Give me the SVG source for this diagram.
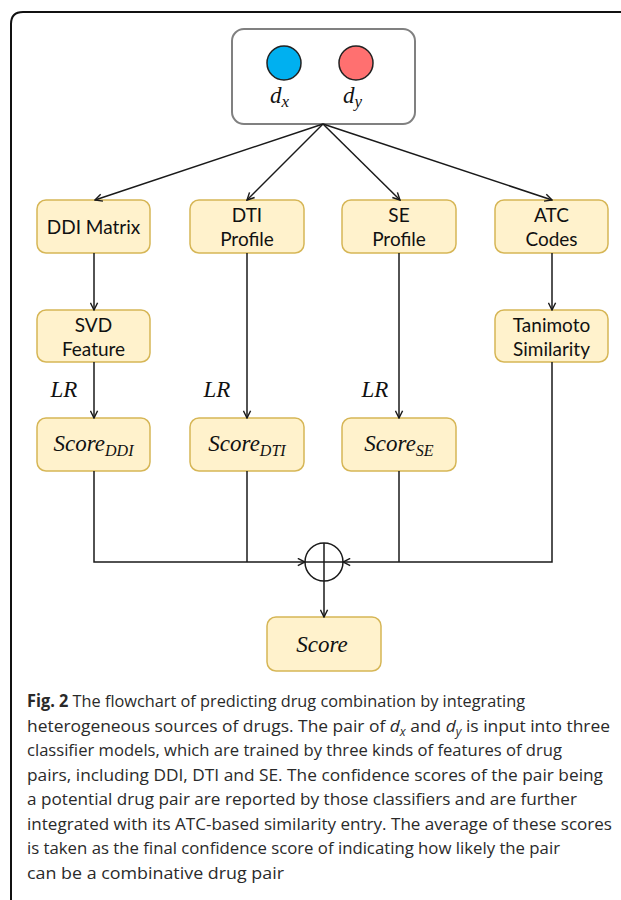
<svg xmlns="http://www.w3.org/2000/svg" width="621" height="900" viewBox="0 0 621 900">
<style>
.box{fill:#FFF2CC;stroke:#D6B656;stroke-width:1.5}
.lbl{font-family:Lato,"Open Sans",sans-serif;font-size:19px;fill:#111;text-anchor:middle}
.math{font-family:"Liberation Serif","DejaVu Serif",serif;font-style:italic;font-size:23px;fill:#111}
.conn{stroke:#1a1a1a;stroke-width:1.5;fill:none}
.cap{font-family:"Open Sans","Noto Sans",sans-serif;font-size:17px;fill:#2a2a2a}
</style>
<defs>
<marker id="arr" viewBox="0 0 10 10" refX="9" refY="5" markerWidth="9" markerHeight="9" markerUnits="userSpaceOnUse" orient="auto">
<path d="M1,1 L9,5 L1,9" fill="none" stroke="#1a1a1a" stroke-width="1.6"/>
</marker>
</defs>
<rect width="621" height="900" fill="#fff"/>
<path d="M11,900 V24 Q11,12 23,12 H621" fill="none" stroke="#111" stroke-width="2"/>

<g id="input">
<rect x="232" y="29" width="183" height="95" rx="12" fill="#fff" stroke="#808080" stroke-width="2"/>
<circle cx="284" cy="63" r="17" fill="#00B0F0" stroke="#222" stroke-width="1.5"/>
<circle cx="356" cy="63" r="17" fill="#FF7070" stroke="#222" stroke-width="1.5"/>
<text class="math" x="270" y="103" font-size="25">d<tspan font-size="17" dy="4">x</tspan></text>
<text class="math" x="343" y="103" font-size="25">d<tspan font-size="17" dy="4">y</tspan></text>
</g>

<g id="ddi_matrix"><rect class="box" x="37" y="200" width="113" height="53" rx="9"/><text class="lbl" x="93.5" y="234">DDI Matrix</text></g>
<g id="dti_profile"><rect class="box" x="190" y="200" width="114" height="53" rx="9"/><text class="lbl" x="247" y="222">DTI</text><text class="lbl" x="247" y="246">Profile</text></g>
<g id="se_profile"><rect class="box" x="342" y="200" width="114" height="53" rx="9"/><text class="lbl" x="399" y="222">SE</text><text class="lbl" x="399" y="246">Profile</text></g>
<g id="atc_codes"><rect class="box" x="495" y="200" width="113" height="53" rx="9"/><text class="lbl" x="551.5" y="222">ATC</text><text class="lbl" x="551.5" y="246">Codes</text></g>

<g id="svd_feature"><rect class="box" x="37" y="310" width="113" height="52" rx="9"/><text class="lbl" x="93.5" y="332">SVD</text><text class="lbl" x="93.5" y="356">Feature</text></g>
<g id="tanimoto"><rect class="box" x="495" y="310" width="113" height="52" rx="9"/><text class="lbl" x="551.5" y="332">Tanimoto</text><text class="lbl" x="551.5" y="356">Similarity</text></g>

<g id="score_ddi"><rect class="box" x="37" y="418" width="113" height="53" rx="9"/><text class="math" x="93.5" y="451" text-anchor="middle">Score<tspan font-size="16" dy="5">DDI</tspan></text></g>
<g id="score_dti"><rect class="box" x="190" y="418" width="114" height="53" rx="9"/><text class="math" x="247" y="451" text-anchor="middle">Score<tspan font-size="16" dy="5">DTI</tspan></text></g>
<g id="score_se"><rect class="box" x="342" y="418" width="114" height="53" rx="9"/><text class="math" x="399" y="451" text-anchor="middle">Score<tspan font-size="16" dy="5">SE</tspan></text></g>

<g id="score"><rect class="box" x="267" y="617" width="114" height="54" rx="9"/><text class="math" x="322" y="652" text-anchor="middle">Score</text></g>

<g id="sum">
<circle cx="324" cy="562" r="19" fill="none" stroke="#1a1a1a" stroke-width="1.5"/>
<line x1="324" y1="543" x2="324" y2="581" class="conn"/>
<line x1="305" y1="562" x2="343" y2="562" class="conn"/>
</g>

<g id="edge_labels">
<text class="math" x="64" y="397" text-anchor="middle">LR</text>
<text class="math" x="217" y="397" text-anchor="middle">LR</text>
<text class="math" x="375" y="397" text-anchor="middle">LR</text>
</g>

<g id="connectors">
<line class="conn" x1="323" y1="124" x2="95" y2="200" marker-end="url(#arr)"/>
<line class="conn" x1="323" y1="124" x2="247" y2="200" marker-end="url(#arr)"/>
<line class="conn" x1="323" y1="124" x2="400" y2="200" marker-end="url(#arr)"/>
<line class="conn" x1="323" y1="124" x2="552" y2="200" marker-end="url(#arr)"/>
<line class="conn" x1="94" y1="253" x2="94" y2="310" marker-end="url(#arr)"/>
<line class="conn" x1="94" y1="362" x2="94" y2="418" marker-end="url(#arr)"/>
<line class="conn" x1="247" y1="253" x2="247" y2="418" marker-end="url(#arr)"/>
<line class="conn" x1="399" y1="253" x2="399" y2="418" marker-end="url(#arr)"/>
<line class="conn" x1="552" y1="253" x2="552" y2="310" marker-end="url(#arr)"/>
<polyline class="conn" points="94,471 94,562 305,562" marker-end="url(#arr)"/>
<line class="conn" x1="247" y1="471" x2="247" y2="562"/>
<line class="conn" x1="399" y1="471" x2="399" y2="562"/>
<polyline class="conn" points="552,362 552,562 343,562" marker-end="url(#arr)"/>
<line class="conn" x1="324" y1="581" x2="324" y2="617" marker-end="url(#arr)"/>
</g>

<g id="caption">
<text class="cap" x="27" y="707" textLength="498" lengthAdjust="spacingAndGlyphs"><tspan font-weight="bold">Fig. 2</tspan> The flowchart of predicting drug combination by integrating</text>
<text class="cap" x="27" y="732" textLength="583" lengthAdjust="spacingAndGlyphs">heterogeneous sources of drugs. The pair of <tspan font-style="italic">d<tspan font-size="12" baseline-shift="-4">x</tspan></tspan> and <tspan font-style="italic">d<tspan font-size="12" baseline-shift="-4">y</tspan></tspan> is input into three</text>
<text class="cap" x="27" y="756" textLength="535" lengthAdjust="spacingAndGlyphs">classifier models, which are trained by three kinds of features of drug</text>
<text class="cap" x="27" y="781" textLength="576" lengthAdjust="spacingAndGlyphs">pairs, including DDI, DTI and SE. The confidence scores of the pair being</text>
<text class="cap" x="27" y="805" textLength="550" lengthAdjust="spacingAndGlyphs">a potential drug pair are reported by those classifiers and are further</text>
<text class="cap" x="27" y="830" textLength="585" lengthAdjust="spacingAndGlyphs">integrated with its ATC-based similarity entry. The average of these scores</text>
<text class="cap" x="27" y="854" textLength="533" lengthAdjust="spacingAndGlyphs">is taken as the final confidence score of indicating how likely the pair</text>
<text class="cap" x="27" y="879" textLength="257" lengthAdjust="spacingAndGlyphs">can be a combinative drug pair</text>
</g>
</svg>
